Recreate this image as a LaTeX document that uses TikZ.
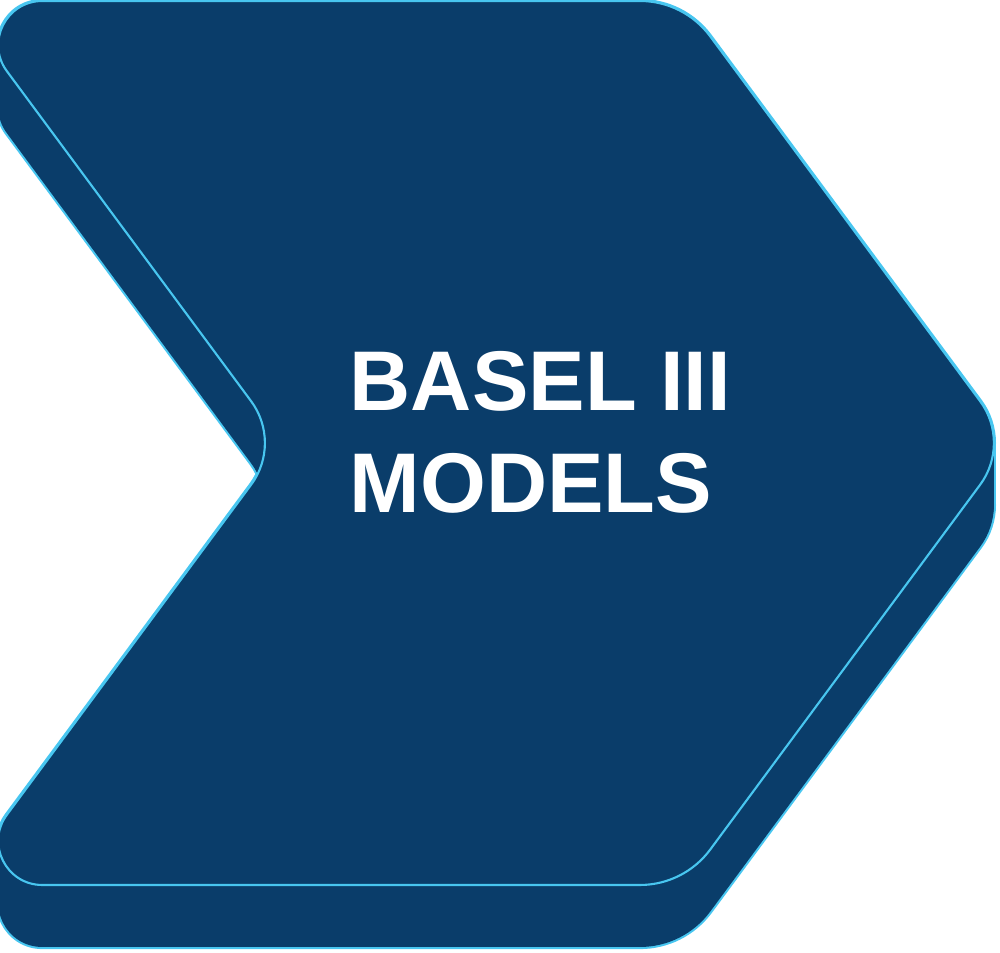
\documentclass[tikz,border=0pt]{standalone}
\usepackage{fontspec}
\setmainfont{Liberation Sans}
\definecolor{chevfill}{RGB}{10,61,106}
\definecolor{chevline}{RGB}{72,198,240}
\def\chevpath{(42.3,1) -- (640,1) .. controls (667.7,1) and (693.7,14.1) .. (710.2,36.4)
  -- (980.1,401.2) .. controls (998.5,426) and (998.5,460) .. (980.1,484.8)
  -- (710.2,849.6) .. controls (693.7,871.9) and (667.7,885) .. (640,885)
  -- (42.3,885) .. controls (6.2,885) and (-14.6,843.8) .. (6.9,814.8)
  -- (251.1,484.8) .. controls (269.5,460) and (269.5,426) .. (251.1,401.2)
  -- (6.9,71.2) .. controls (-14.6,42.2) and (6.2,1) .. (42.3,1) -- cycle}
\tikzset{
  outerline/.style={draw=chevline, line width=1.2pt, line join=round},
  bodyfill/.style={fill=chevfill},
  faceline/.style={draw=chevline, line width=0.6pt, line join=round},
  title/.style={text=white, font=\fontsize{24.1pt}{28.9pt}\selectfont\bfseries,
    align=left, inner sep=0pt, anchor=north west}
}
\begin{document}
\begin{tikzpicture}[x=0.1mm,y=-0.1mm]
\useasboundingbox (0,0) rectangle (1000,953);
\clip (0,0) rectangle (1000,953);
% outer outline of the extruded body (outer half stays visible)
\path[outerline, shift={(0,62)}] \chevpath;
\path[outerline] \chevpath;
\coordinate (tipA) at (993.9,443);
\coordinate (tipB) at (993.9,505);
\draw[chevline, line width=1.2pt] (tipA) -- (tipB);
% body fill (sweep of the face over the depth)
\foreach \dy in {0,2,...,62}{
  \path[bodyfill, shift={(0,\dy)}] \chevpath;
}
% front face
\path[bodyfill, faceline] \chevpath;
\node[title] (label) at (349,351) {BASEL III\\MODELS};
\end{tikzpicture}
\end{document}
